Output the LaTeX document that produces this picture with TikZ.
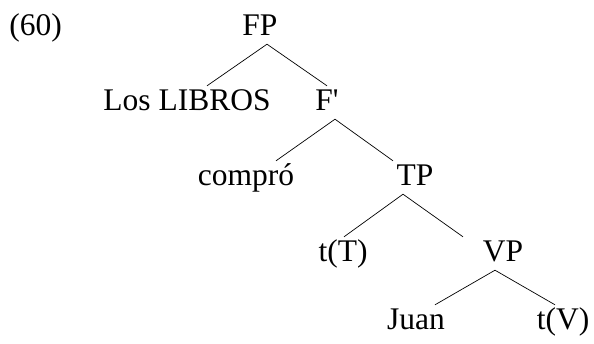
\documentclass[tikz,border=0pt]{standalone}
\usepackage{fontspec}
\setmainfont{Liberation Serif}
\tikzset{
  lbl/.style={anchor=base, inner sep=0pt, text height=24pt, text depth=9pt},
  branch/.style={thin, line width=0.7pt}
}
\begin{document}
\begin{tikzpicture}[x=1pt, y=-1pt, font=\fontsize{31.5}{36}\selectfont]
  \useasboundingbox (0,0) rectangle (594,343);

  \node[lbl] (num) at (35.5,35) {(60)};

  \node[lbl] (FP) at (260,35) {FP};
  \node[lbl] (libros) at (187,110) {Los LIBROS};
  \node[lbl] (Fbar) at (327,110) {F\textquotesingle};
  \node[lbl] (compro) at (246,185) {compró};
  \node[lbl] (TP) at (415,185) {TP};
  \node[lbl] (tT) at (343,261) {t(T)};
  \node[lbl] (VP) at (503,261) {VP};
  \node[lbl] (Juan) at (416,329) {Juan};
  \node[lbl] (tV) at (563,329) {t(V)};

  % branches
  \draw[branch] ([xshift=7pt]FP.south) -- ([xshift=20pt]libros.north);
  \draw[branch] ([xshift=7pt]FP.south) -- (Fbar.north);
  \draw[branch] ([xshift=8pt]Fbar.south) -- ([xshift=30pt]compro.north);
  \draw[branch] ([xshift=8pt]Fbar.south) -- ([xshift=-22pt]TP.north);
  \draw[branch] ([xshift=-12pt]TP.south) -- ([xshift=1pt]tT.north);
  \draw[branch] ([xshift=-12pt]TP.south) -- ([xshift=-40pt]VP.north);
  \draw[branch] ([xshift=-8pt]VP.south) -- ([xshift=19pt]Juan.north);
  \draw[branch] ([xshift=-8pt]VP.south) -- ([xshift=-8pt]tV.north);
\end{tikzpicture}
\end{document}
